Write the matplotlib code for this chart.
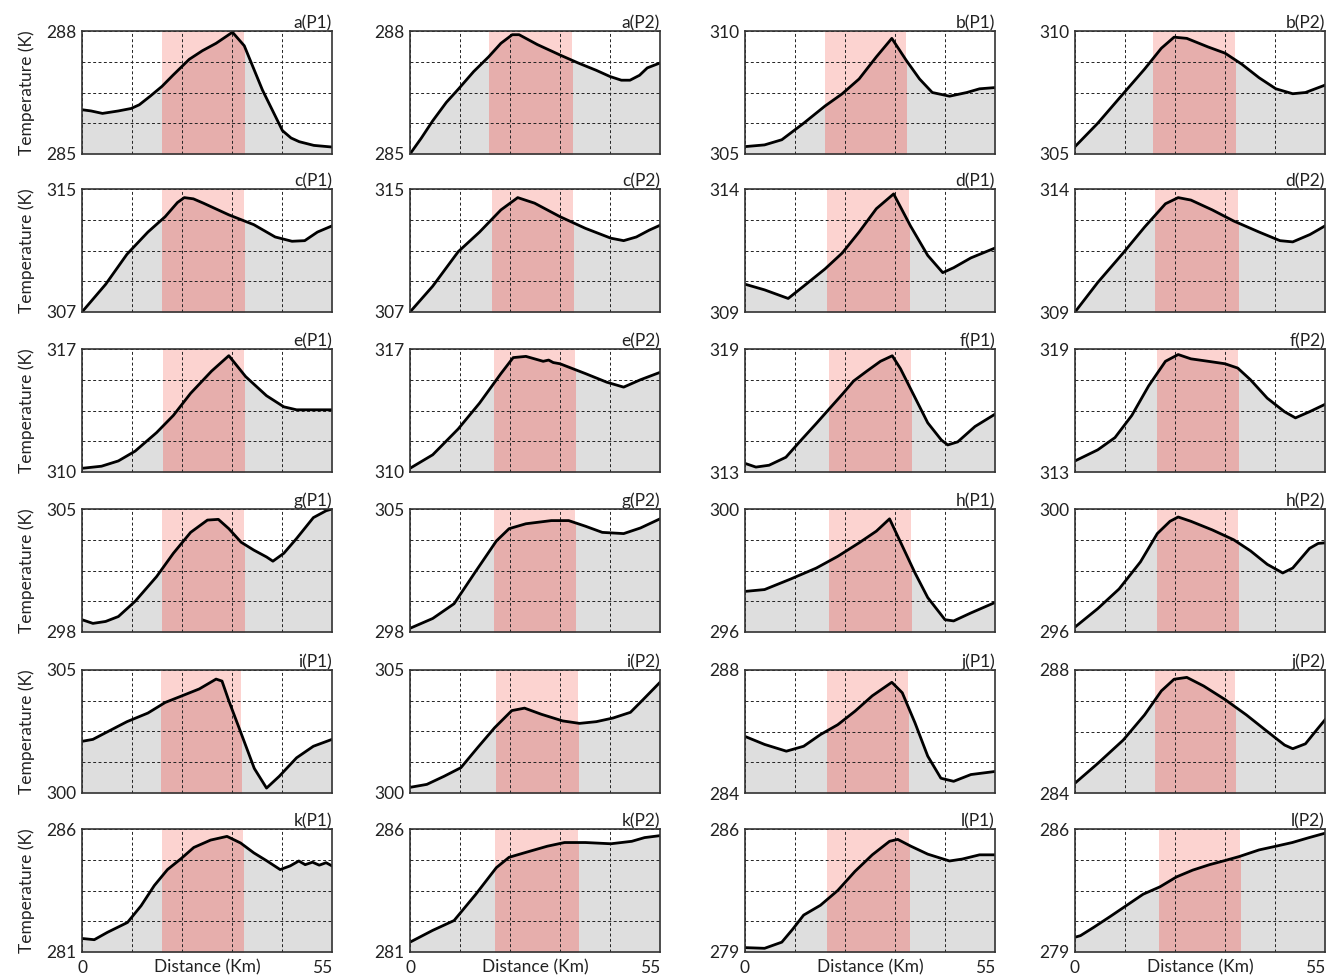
import matplotlib
matplotlib.use("Agg")
import matplotlib.pyplot as plt
from matplotlib.patches import Rectangle

# -----------------------------
# Panel data (distance in km, temperature in K)
# -----------------------------
a_p1_km = [0, 2, 4.5, 8, 10.8, 12.6, 15, 17.6, 20, 23.6, 26.5, 29.5, 33.1, 35.7, 39.7, 44.1, 46, 47.8, 51, 55]
a_p1_t = [286.08, 286.05, 285.99, 286.05, 286.11, 286.20, 286.41, 286.65, 286.92, 287.31, 287.52, 287.70,
          287.97, 287.64, 286.56, 285.57, 285.39, 285.30, 285.21, 285.17]
a_p2_km = [0, 2.5, 5, 8, 10.7, 14, 17.3, 20, 22.5, 24, 28, 33.3, 37, 41, 44, 46.5, 48.4, 50.5, 52.2, 55]
a_p2_t = [285.00, 285.39, 285.81, 286.26, 286.59, 287.01, 287.37, 287.70, 287.91, 287.91, 287.67, 287.40,
          287.22, 287.04, 286.89, 286.80, 286.80, 286.92, 287.10, 287.22]

b_p1_km = [0, 4.3, 8.1, 12.9, 17.6, 21.4, 25.1, 28.9, 32.3, 35.5, 38.4, 41.2, 45, 48.8, 51.6, 55]
b_p1_t = [305.30, 305.37, 305.58, 306.25, 306.95, 307.45, 308.05, 308.95, 309.70, 308.80, 308.05, 307.50,
          307.35, 307.50, 307.65, 307.70]
b_p2_km = [0, 5, 10.6, 15.3, 19, 21.8, 24.6, 29.3, 33, 36.7, 40.5, 44.2, 47.9, 50.7, 55]
b_p2_t = [305.30, 306.25, 307.45, 308.45, 309.30, 309.75, 309.70, 309.35, 309.10, 308.65, 308.10, 307.65,
          307.45, 307.50, 307.80]

c_p1_km = [0, 5.2, 9.9, 14.5, 18.3, 21, 22.5, 24.5, 26.7, 32.3, 37.8, 42.5, 46.2, 49, 51.8, 55]
c_p1_t = [307.00, 308.80, 310.76, 312.20, 313.20, 314.12, 314.44, 314.36, 314.08, 313.32, 312.68, 311.88,
          311.60, 311.64, 312.20, 312.60]
c_p2_km = [0, 5, 10.6, 15.3, 20, 23.7, 27.4, 33, 38.6, 44.2, 47, 49.8, 52.6, 55]
c_p2_t = [307.00, 308.68, 310.92, 312.20, 313.64, 314.44, 314.08, 313.20, 312.44, 311.80, 311.64, 311.88,
          312.32, 312.64]

d_p1_km = [0, 4.3, 9.5, 12.9, 17.6, 21.4, 25.1, 28.9, 32.7, 36.4, 40.2, 43.5, 45.9, 49.7, 55]
d_p1_t = [310.13, 309.90, 309.55, 310.05, 310.75, 311.40, 312.25, 313.20, 313.80, 312.50, 311.30, 310.60,
          310.80, 311.20, 311.60]
d_p2_km = [0, 5, 10.6, 15.3, 19.9, 22.7, 25.5, 30.2, 34.9, 40.5, 45.1, 47.9, 51.7, 55]
d_p2_t = [309.00, 310.20, 311.40, 312.45, 313.40, 313.65, 313.55, 313.15, 312.70, 312.25, 311.90, 311.85,
          312.15, 312.50]

e_p1_km = [0, 4.3, 8, 11.7, 16.4, 20.1, 23.9, 28.5, 32.3, 36, 40.6, 44.4, 47.2, 55]
e_p1_t = [310.21, 310.33, 310.63, 311.19, 312.24, 313.22, 314.48, 315.74, 316.62, 315.43, 314.34, 313.71,
          313.54, 313.54]
e_p2_km = [0, 5, 10.6, 15.3, 20, 22.7, 25.5, 29.3, 30.5, 31.5, 33, 38.6, 43.3, 47, 50.7, 55]
e_p2_t = [310.21, 310.98, 312.45, 313.92, 315.60, 316.51, 316.58, 316.30, 316.37, 316.23, 316.16, 315.60,
          315.11, 314.83, 315.25, 315.67]

f_p1_km = [0, 2.4, 5.3, 9, 12, 15.7, 18.7, 21.6, 23.9, 26.8, 29.8, 32.4, 34.2, 37.2, 40.2, 43.2, 44.6,
           46.8, 50.6, 55]
f_p1_t = [313.42, 313.24, 313.33, 313.72, 314.47, 315.37, 316.12, 316.84, 317.44, 317.92, 318.40, 318.67,
          318.04, 316.72, 315.40, 314.56, 314.32, 314.47, 315.22, 315.82]
f_p2_km = [0, 5, 8.8, 12.5, 16.2, 19.9, 22.7, 25.5, 29.3, 33, 35.8, 38.6, 42.3, 46.1, 48.5, 51.6, 55]
f_p2_t = [313.54, 314.08, 314.68, 315.76, 317.20, 318.40, 318.73, 318.52, 318.40, 318.28, 318.07, 317.50,
          316.60, 315.94, 315.64, 315.94, 316.30]

g_p1_km = [0, 2.4, 5.2, 8, 11.7, 16.4, 20.1, 23.9, 27.6, 30, 32.3, 35, 37.8, 40.6, 42, 44.4, 47.2, 50.9,
           53.7, 55]
g_p1_t = [298.70, 298.49, 298.60, 298.88, 299.75, 301.15, 302.48, 303.67, 304.37, 304.41, 303.88, 303.11,
          302.66, 302.27, 302.03, 302.48, 303.32, 304.51, 304.90, 305.00]
g_p2_km = [0, 5, 9.7, 14.4, 19, 21.8, 25.5, 31.1, 34.9, 38.6, 42.3, 47, 50.7, 55]
g_p2_t = [298.21, 298.77, 299.61, 301.43, 303.18, 303.88, 304.16, 304.34, 304.34, 304.02, 303.67, 303.60,
          303.92, 304.44]

h_p1_km = [0, 4.3, 10, 15.7, 20.4, 25.1, 28.9, 31.8, 34.6, 37.4, 40.2, 44, 45.9, 49.7, 55]
h_p1_t = [297.32, 297.38, 297.72, 298.08, 298.46, 298.90, 299.28, 299.68, 298.80, 297.92, 297.12, 296.40,
          296.36, 296.62, 296.96]
h_p2_km = [0, 5, 9.7, 14.4, 18.1, 20.9, 22.7, 25.5, 30.2, 34.9, 38.6, 42.3, 45.7, 47.9, 51.6, 53.5, 55]
h_p2_t = [296.16, 296.76, 297.40, 298.28, 299.20, 299.60, 299.74, 299.60, 299.32, 299.00, 298.64, 298.20,
          297.92, 298.08, 298.72, 298.88, 298.90]

i_p1_km = [0, 2.4, 5.2, 9.9, 14.5, 18.3, 22, 25.8, 29.5, 30.8, 32.3, 35.1, 37.9, 40.6, 43.4, 47.2, 50.9, 55]
i_p1_t = [302.10, 302.18, 302.45, 302.90, 303.25, 303.68, 303.95, 304.23, 304.63, 304.55, 303.75, 302.38,
          301.00, 300.20, 300.68, 301.43, 301.90, 302.18]
i_p2_km = [0, 3.7, 7.5, 11.2, 14.9, 18.6, 22.4, 25.2, 28.9, 33.6, 37.3, 41, 44.7, 48.5, 51.3, 55]
i_p2_t = [300.23, 300.35, 300.68, 301.03, 301.85, 302.65, 303.35, 303.45, 303.20, 302.93, 302.83, 302.90,
          303.05, 303.28, 303.80, 304.50]

j_p1_km = [0, 4.3, 9.1, 12.9, 16.6, 20.4, 24.2, 28, 32.3, 34.6, 37.4, 40.2, 43.1, 45.9, 49.7, 55]
j_p1_t = [285.84, 285.58, 285.36, 285.52, 285.90, 286.22, 286.66, 287.16, 287.60, 287.26, 286.28, 285.20,
          284.48, 284.38, 284.60, 284.70]
j_p2_km = [0, 5, 10.6, 15.3, 19, 21.8, 24.6, 28.3, 33, 37.7, 42.3, 46.1, 47.9, 50.7, 53.1, 55]
j_p2_t = [284.32, 284.96, 285.72, 286.54, 287.32, 287.70, 287.76, 287.48, 287.04, 286.54, 286.00, 285.56,
          285.44, 285.60, 286.04, 286.38]

k_p1_km = [0, 2.7, 5.6, 10, 13, 15.9, 18.8, 21.7, 24.6, 28.3, 31.9, 34.9, 37.8, 40.7, 43.6, 45.8, 47.7,
           49.1, 50.7, 52.2, 53.7, 55]
k_p1_t = [281.55, 281.50, 281.80, 282.20, 282.88, 283.70, 284.35, 284.78, 285.25, 285.55, 285.70, 285.43,
          285.03, 284.70, 284.35, 284.50, 284.70, 284.55, 284.65, 284.53, 284.63, 284.50]
k_p2_km = [0, 5, 9.7, 14.4, 19, 21.8, 25.5, 30.2, 34, 38.6, 44.2, 48.8, 51.6, 55]
k_p2_t = [281.40, 281.88, 282.28, 283.33, 284.43, 284.85, 285.05, 285.30, 285.45, 285.45, 285.40, 285.50,
          285.65, 285.73]

l_p1_km = [0, 4.3, 8.1, 10.5, 12.9, 16.6, 20.4, 24.2, 28, 31.8, 33.6, 36.5, 40.2, 45, 47.8, 51.6, 55]
l_p1_t = [279.25, 279.21, 279.56, 280.30, 281.10, 281.66, 282.50, 283.59, 284.53, 285.30, 285.41, 285.02,
          284.57, 284.18, 284.29, 284.53, 284.53]
l_p2_km = [0, 1.2, 4.1, 7.8, 11.4, 15, 18.7, 22.3, 25.9, 29.6, 33.2, 36.1, 40.5, 44.2, 47.8, 51.5, 55]
l_p2_t = [279.84, 279.93, 280.40, 281.03, 281.66, 282.29, 282.71, 283.27, 283.66, 283.97, 284.22, 284.43,
          284.81, 285.02, 285.23, 285.51, 285.76]

# panel labels, y ranges and shaded band (km), row-major order
panel_labels = ["a(P1)", "a(P2)", "b(P1)", "b(P2)",
                "c(P1)", "c(P2)", "d(P1)", "d(P2)",
                "e(P1)", "e(P2)", "f(P1)", "f(P2)",
                "g(P1)", "g(P2)", "h(P1)", "h(P2)",
                "i(P1)", "i(P2)", "j(P1)", "j(P2)",
                "k(P1)", "k(P2)", "l(P1)", "l(P2)"]
y_min = [285, 285, 305, 305, 307, 307, 309, 309, 310, 310, 313, 313,
         298, 298, 296, 296, 300, 300, 284, 284, 281, 281, 279, 279]
y_max = [288, 288, 310, 310, 315, 315, 314, 314, 317, 317, 319, 319,
         305, 305, 300, 300, 305, 305, 288, 288, 286, 286, 286, 286]
band_start = [17.6, 17.3, 17.6, 17.2, 17.7, 18.1, 18.1, 17.7, 17.9, 18.5, 18.5, 18.1,
              17.7, 18.5, 18.5, 18.1, 17.3, 19.0, 18.0, 17.5, 17.7, 18.6, 18.1, 18.5]
band_end = [35.7, 35.6, 35.5, 35.2, 35.6, 35.8, 36.0, 35.8, 35.6, 36.4, 36.5, 35.8,
            35.6, 36.4, 36.5, 35.8, 35.0, 36.9, 35.9, 35.3, 35.4, 37.0, 36.0, 36.3]

curves = [(a_p1_km, a_p1_t), (a_p2_km, a_p2_t), (b_p1_km, b_p1_t), (b_p2_km, b_p2_t),
          (c_p1_km, c_p1_t), (c_p2_km, c_p2_t), (d_p1_km, d_p1_t), (d_p2_km, d_p2_t),
          (e_p1_km, e_p1_t), (e_p2_km, e_p2_t), (f_p1_km, f_p1_t), (f_p2_km, f_p2_t),
          (g_p1_km, g_p1_t), (g_p2_km, g_p2_t), (h_p1_km, h_p1_t), (h_p2_km, h_p2_t),
          (i_p1_km, i_p1_t), (i_p2_km, i_p2_t), (j_p1_km, j_p1_t), (j_p2_km, j_p2_t),
          (k_p1_km, k_p1_t), (k_p2_km, k_p2_t), (l_p1_km, l_p1_t), (l_p2_km, l_p2_t)]

# -----------------------------
# Layout (pixel positions of each axes box)
# -----------------------------
W, H = 1333, 975
col_left = [82, 410, 745, 1075]
col_width = 250
row_top = [31, 189, 349, 509, 670, 829]
row_height = 123

plt.rcParams["font.family"] = ["Lato", "DejaVu Sans"]
plt.rcParams["font.size"] = 12

fig = plt.figure(figsize=(W / 100, H / 100), dpi=100)

GRAY = "#dedede"
PINK = "#fcd3d0"
PINK_DARK = "#e6aeac"
TXT = "#222222"

for idx, (km, temp) in enumerate(curves):
    r, c = divmod(idx, 4)
    left = col_left[c] / W
    bottom = 1 - (row_top[r] + row_height) / H
    ax = fig.add_axes([left, bottom, col_width / W, row_height / H])

    lo, hi = y_min[idx], y_max[idx]
    b0, b1 = band_start[idx], band_end[idx]

    ax.axvspan(b0, b1, color=PINK, lw=0, zorder=0)
    ax.fill_between(km, lo, temp, color=GRAY, lw=0, zorder=1)
    over = ax.fill_between(km, lo, temp, color=PINK_DARK, lw=0, zorder=1.5)
    clip = Rectangle((b0, lo), b1 - b0, hi - lo, transform=ax.transData)
    over.set_clip_path(clip)
    ax.plot(km, temp, color="black", lw=2.0, zorder=3)

    ax.set_xlim(0, 55)
    ax.set_ylim(lo, hi)

    # dashed grid
    step = (hi - lo) / 4
    ax.set_xticks([0, 11, 22, 33, 44, 55])
    ax.set_yticks([lo, lo + step, lo + 2 * step, lo + 3 * step, hi])
    ax.grid(True, color=TXT, lw=0.7, ls=(0, (3, 2.5)), zorder=2)
    ax.set_axisbelow(False)
    ax.tick_params(length=0, pad=4, labelsize=12.5, colors=TXT)
    ax.set_yticklabels([str(lo), "", "", "", str(hi)])
    if r == 5:
        ax.set_xticklabels(["0", "", "", "", "", "55"])
        ax.tick_params(axis="x", pad=6)
        ax.get_xticklabels()[-1].set_horizontalalignment("right")
        ax.text(0.5, -0.06, "Distance (Km)", transform=ax.transAxes,
                ha="center", va="top", fontsize=12.5, color=TXT)
    else:
        ax.set_xticklabels([])

    for s in ax.spines.values():
        s.set_color("#333333")
        s.set_linewidth(1.2)
        s.set_zorder(4)

    ax.set_title(panel_labels[idx], loc="right", pad=1, fontsize=12.5, color=TXT)
    if c == 0:
        ax.set_ylabel("Temperature (K)", fontsize=12.5, labelpad=8, color=TXT)

fig.savefig("out.png", dpi=100)
